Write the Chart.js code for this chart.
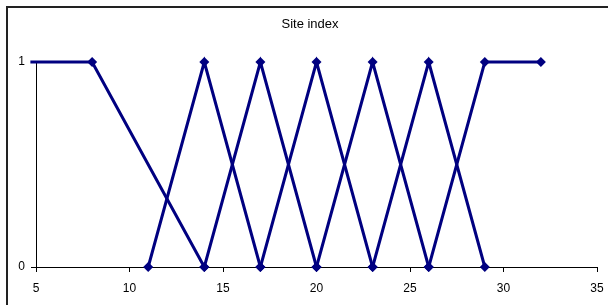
<!DOCTYPE html>
<html>
<head>
<meta charset="utf-8">
<script src="https://cdn.jsdelivr.net/npm/chart.js@4/dist/chart.umd.min.js"></script>
<style>
  html, body { margin: 0; padding: 0; background: #fff; }
  #wrap { width: 608px; height: 305px; position: relative; }
</style>
</head>
<body>
<div id="wrap"><canvas id="chart" width="608" height="305"></canvas></div>
<script>
// Site index membership functions
const titleText = 'Site index';
const xTicks = [5, 10, 15, 20, 25, 30, 35];
const yTicks = [0, 1];

const seriesX = [
    [4.7, 8, 14],
    [11, 14, 17],
    [14, 17, 20],
    [17, 20, 23],
    [20, 23, 26],
    [23, 26, 29],
    [26, 29, 32]
];
const seriesY = [
    [1, 1, 0],
    [0, 1, 0],
    [0, 1, 0],
    [0, 1, 0],
    [0, 1, 0],
    [0, 1, 0],
    [0, 1, 1]
];

const navy = '#000080';

const datasets = seriesX.map((xs, i) => ({
    data: xs.map((x, j) => ({ x: x, y: seriesY[i][j] })),
    borderColor: navy,
    backgroundColor: navy,
    borderWidth: 3,
    showLine: true,
    tension: 0,
    clip: false,
    pointStyle: 'rectRot',
    pointRadius: xs.map((x) => x < 5 ? 0 : 5),
    pointBorderWidth: 0,
    pointBackgroundColor: navy
}));

// outer frame + title
const framePlugin = {
    id: 'frame',
    beforeDraw(chart) {
        const c = chart.ctx;
        c.save();
        c.strokeStyle = '#222';
        c.lineWidth = 2;
        c.beginPath();
        c.moveTo(7, 310);
        c.lineTo(7, 7);
        c.lineTo(615, 7);
        c.stroke();
        c.fillStyle = '#000';
        c.font = '13px "Liberation Sans", Arial, sans-serif';
        c.textAlign = 'center';
        c.textBaseline = 'middle';
        c.fillText(titleText, 310, 24);
        c.restore();
    }
};

const tickFont = { family: '"Liberation Sans", Arial, sans-serif', size: 12 };

new Chart(document.getElementById('chart'), {
    type: 'scatter',
    data: { datasets: datasets },
    plugins: [framePlugin],
    options: {
        responsive: false,
        animation: false,
        layout: { padding: { top: 62, right: 11, left: 0, bottom: 0 } },
        plugins: { legend: { display: false }, tooltip: { enabled: false } },
        scales: {
            x: {
                type: 'linear',
                min: 5,
                max: 35,
                afterBuildTicks(scale) { scale.ticks = xTicks.map((v) => ({ value: v })); },
                afterFit(scale) { scale.height = 38; scale.paddingRight = 0; scale.paddingLeft = 0; },
                ticks: { color: '#000', font: tickFont, padding: 9, maxRotation: 0 },
                grid: { drawOnChartArea: false, drawTicks: true, tickLength: 5, color: '#000' },
                border: { color: '#000', width: 1 }
            },
            y: {
                min: 0,
                max: 1,
                afterBuildTicks(scale) { scale.ticks = yTicks.map((v) => ({ value: v })); },
                afterFit(scale) { scale.width = 36; scale.paddingTop = 0; scale.paddingBottom = 0; },
                ticks: { color: '#000', font: tickFont, padding: 6 },
                grid: { drawOnChartArea: false, drawTicks: true, tickLength: 5, color: '#000' },
                border: { color: '#000', width: 1 }
            }
        }
    }
});
</script>
</body>
</html>
